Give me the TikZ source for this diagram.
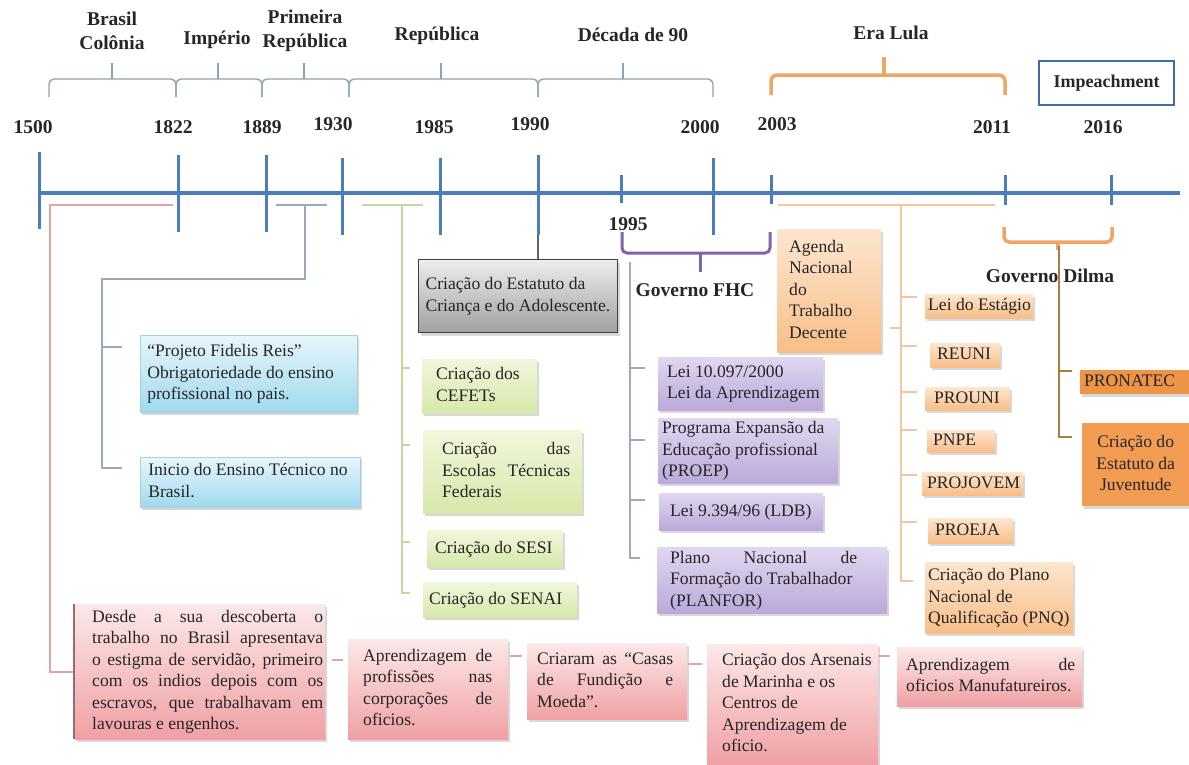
\documentclass[tikz,border=0pt]{standalone}
\usepackage{fontspec}
\setmainfont{Liberation Serif}
\usetikzlibrary{shadows,calc}
\setlength\parindent{0pt}
\newcommand\jst[2]{\makebox[#1][s]{#2}}
\newcommand\tb[3][0pt]{\makebox[#2][l]{\hspace*{#1}\begin{tabular}{@{}l@{}}#3\end{tabular}}}
\newcommand\tbc[2]{\makebox[#1][c]{\begin{tabular}{@{}c@{}}#2\end{tabular}}}
\newcommand\bodyfont{\fontsize{17.6}{21.5}\selectfont}
\newcommand\headfont{\fontsize{19.5}{24}\selectfont\bfseries}
\definecolor{tlc}{HTML}{4A7EBB}
\definecolor{brkc}{HTML}{8FA3B6}
\definecolor{txt}{HTML}{262626}
\definecolor{blueT}{HTML}{E8F6FC}
\definecolor{blueB}{HTML}{9FD9EE}
\definecolor{blueD}{HTML}{A9CFE0}
\definecolor{grayT}{HTML}{EDEDED}
\definecolor{grayB}{HTML}{A0A0A0}
\definecolor{grayD}{HTML}{3F3F3F}
\definecolor{greenT}{HTML}{F1F7DC}
\definecolor{greenB}{HTML}{D6E8A9}
\definecolor{purT}{HTML}{E0D7F0}
\definecolor{purB}{HTML}{BBA9DA}
\definecolor{orT}{HTML}{FDE6CF}
\definecolor{orB}{HTML}{F8BE88}
\definecolor{dorA}{HTML}{EE9446}
\definecolor{dorB}{HTML}{F29B52}
\definecolor{pinkT}{HTML}{FCE8E8}
\definecolor{pinkB}{HTML}{F0A0A4}
\definecolor{redl}{HTML}{E3A3A3}
\definecolor{redd}{HTML}{9C6B6B}
\definecolor{bll}{HTML}{9AAABB}
\definecolor{grl}{HTML}{C8D79E}
\definecolor{pul}{HTML}{ADA3BF}
\definecolor{orl}{HTML}{F2C7A0}
\definecolor{eral}{HTML}{EFA566}
\definecolor{dilv}{HTML}{B07B45}
\definecolor{fhcc}{HTML}{7F64A8}
\definecolor{impc}{HTML}{3F6CAA}
\tikzset{
  hd/.style={font=\headfont, align=center, inner sep=0pt, text=black!85},
  bx/.style={anchor=north west, inner sep=0pt, font=\bodyfont, text=txt,
    drop shadow={opacity=0.3,shadow xshift=2pt,shadow yshift=-3pt}},
  ht/.style={minimum height=#1pt},
  bluebox/.style={bx, top color=blueT, bottom color=blueB, draw=blueD, line width=0.6pt},
  graybox/.style={bx, top color=grayT, bottom color=grayB, draw=grayD, line width=1.2pt},
  greenbox/.style={bx, top color=greenT, bottom color=greenB},
  purbox/.style={bx, top color=purT, bottom color=purB},
  orbox/.style={bx, top color=orT, bottom color=orB},
  darkor/.style={bx, fill=#1},
  pinkbox/.style={bx, top color=pinkT, bottom color=pinkB},
  brk/.style={draw=brkc, line width=1.4pt, rounded corners=5pt},
  tick/.style={draw=tlc, line width=3pt},
  conn/.style={draw=#1, line width=1.6pt}
}
\begin{document}
\begin{tikzpicture}[x=1pt,y=-1pt]
\useasboundingbox (0,0) rectangle (1189,764);
\fill[white] (0,0) rectangle (1189,764);

% ---------- period labels ----------
\node[hd] (pcol) at (112,31) {Brasil\\Colônia};
\node[hd] (pimp) at (217,40) {Império};
\node[hd] (ppr) at (305,31) {Primeira\\República};
\node[hd] (prep) at (437,36) {República};
\node[hd] (pdec) at (633,35) {Década de 90};
\node[hd] (plula) at (891,33) {Era Lula};
\node[hd, draw=impc, line width=2.5pt, minimum width=135pt, minimum height=44pt, font=\fontsize{18}{22}\selectfont\bfseries] (imp) at (1106.5,83) {Impeachment};

% ---------- period brackets ----------
\draw[brk] (49,97) -- (49,79) -- (176,79) -- (176,97);
\draw[brk] (176,97) -- (176,79) -- (262,79) -- (262,97);
\draw[brk] (262,97) -- (262,79) -- (349,79) -- (349,97);
\draw[brk] (349,97) -- (349,79) -- (538,79) -- (538,97);
\draw[brk] (538,97) -- (538,79) -- (713,79) -- (713,97);
\foreach \m in {112,218,304,441,623} \draw[draw=brkc, line width=1.4pt] (\m,79) -- (\m,63);
\draw[draw=eral, line width=3.5pt, rounded corners=6pt] (771,95) -- (771,75) -- (1005,75) -- (1005,95);
\draw[draw=eral, line width=3.5pt] (884,75) -- (884,57);

% ---------- years ----------
\node[hd] (y1500) at (33,127) {1500};
\node[hd] (y1822) at (173,127) {1822};
\node[hd] (y1889) at (262,127) {1889};
\node[hd] (y1930) at (333,124) {1930};
\node[hd] (y1985) at (434,127) {1985};
\node[hd] (y1990) at (530,124) {1990};
\node[hd] (y2000) at (700,127) {2000};
\node[hd] (y2003) at (777,124) {2003};
\node[hd] (y2011) at (992,127) {2011};
\node[hd] (y2016) at (1103,127) {2016};
\node[hd] (y1995) at (628,224) {1995};

% ---------- timeline ----------
\draw[draw=tlc, line width=3.5pt] (38,193) -- (1180,193);
\foreach \x/\a/\b in {39/152/229, 178/155/232, 266/155/232, 342/158/235, 440/158/235, 538/155/235, 621/175/203, 713/158/235, 771/175/204, 1005/175/205, 1111/175/205}
  \draw[tick] (\x,\a) -- (\x,\b);

% ---------- governo labels/brackets ----------
\node[hd] (gfhc) at (695,290) {Governo FHC};
\draw[draw=fhcc, line width=3pt, rounded corners=5pt] (622,232) -- (622,253) -- (770,253) -- (770,232);
\draw[draw=fhcc, line width=3pt] (700,253) -- (700,272);
\node[hd] (gdil) at (1050,276) {Governo Dilma};
\draw[draw=eral, line width=3.5pt, rounded corners=5pt] (1004,227) -- (1004,242) -- (1112,242) -- (1112,227);

% ---------- blue boxes ----------
\node[bluebox, ht=77] (fidelis) at (140,335)
  {\tb[7pt]{217pt}{“Projeto Fidelis Reis”\\Obrigatoriedade do ensino\\profissional no pais.}};
\node[bluebox, ht=50] (inicio) at (140,457)
  {\tb[8pt]{220pt}{Inicio do Ensino Técnico no\\Brasil.}};

% ---------- gray box ----------
\node[graybox, ht=73] (crianca) at (418,259)
  {\tb[7pt]{199pt}{Criação do Estatuto da\\Criança e do Adolescente.}};

% ---------- green boxes ----------
\node[greenbox, ht=54] (cefet) at (422,359) {\tb[14pt]{115pt}{Criação dos\\CEFETs}};
\node[greenbox, ht=83] (escolas) at (423,430)
  {\tb[19pt]{159pt}{\jst{128pt}{Criação das}\\\jst{128pt}{Escolas Técnicas}\\Federais}};
\node[greenbox, ht=37] (sesi) at (427,530) {\tb[8pt]{136pt}{Criação do SESI}};
\node[greenbox, ht=35] (senai) at (423,582) {\tb[6pt]{154pt}{Criação do SENAI}};

% ---------- purple boxes ----------
\node[purbox, ht=53] (lei10) at (658,357) {\tb[9pt]{165pt}{Lei 10.097/2000\\Lei da Aprendizagem}};
\node[purbox, ht=65] (proep) at (658,418)
  {\tb[4pt]{180pt}{Programa Expansão da\\Educação profissional\\(PROEP)}};
\node[purbox, ht=37] (ldb) at (659,493) {\tb[11pt]{164pt}{Lei 9.394/96 (LDB)}};
\node[purbox, ht=66] (planfor) at (657,547)
  {\tb[13pt]{230pt}{\jst{187pt}{Plano Nacional de}\\Formação do Trabalhador\\(PLANFOR)}};

% ---------- orange boxes ----------
\node[orbox, ht=123] (agenda) at (777,229)
  {\tb[12pt]{104pt}{Agenda\\Nacional\\do\\Trabalho\\Decente}};
\node[orbox, ht=24] (estagio) at (925,294) {\tb[3pt]{108pt}{Lei do Estágio}};
\node[orbox, ht=24] (reuni) at (930,343) {\tb[7pt]{70pt}{REUNI}};
\node[orbox, ht=23] (prouni) at (925,387) {\tb[9pt]{85pt}{PROUNI}};
\node[orbox, ht=22] (pnpe) at (927,430) {\tb[6pt]{68pt}{PNPE}};
\node[orbox, ht=23] (projovem) at (922,472) {\tb[5pt]{101pt}{PROJOVEM}};
\node[orbox, ht=25] (proeja) at (928,518) {\tb[7pt]{85pt}{PROEJA}};
\node[orbox, ht=71] (pnq) at (925,562)
  {\tb[3pt]{148pt}{Criação do Plano\\Nacional de\\Qualificação (PNQ)}};
\node[darkor=dorA, ht=24] (pronatec) at (1080,370) {\tb[4pt]{109pt}{PRONATEC}};
\node[darkor=dorB, ht=83] (juv) at (1082,423)
  {\tbc{107pt}{Criação do\\Estatuto da\\Juventude}};

% ---------- pink boxes ----------
\node[pinkbox, ht=135] (desde) at (75,604)
  {\tb[17pt]{250pt}{\jst{231pt}{Desde a sua descoberta o}\\\jst{231pt}{trabalho no Brasil apresentava}\\\jst{231pt}{o estigma de servidão, primeiro}\\\jst{231pt}{com os indios depois com os}\\\jst{231pt}{escravos, que trabalhavam em}\\lavouras e engenhos.}};
\node[pinkbox, ht=100] (aprend) at (348,639)
  {\tb[15pt]{160pt}{\jst{129pt}{Aprendizagem de}\\\jst{129pt}{profissões nas}\\\jst{129pt}{corporações de}\\oficios.}};
\node[pinkbox, ht=76] (criaram) at (527,643)
  {\tb[10pt]{160pt}{\jst{136pt}{Criaram as “Casas}\\\jst{136pt}{de Fundição e}\\Moeda”.}};
\node[pinkbox, ht=120] (arsenais) at (707,644)
  {\tb[15pt]{171pt}{Criação dos Arsenais\\de Marinha e os\\Centros de\\Aprendizagem de\\oficio.}};
\node[pinkbox, ht=59] (manuf) at (897,647)
  {\tb[9pt]{185pt}{\jst{169pt}{Aprendizagem de}\\oficios Manufatureiros.}};

% ---------- connectors ----------
% red (Brasil Colonia)
\draw[conn=redl] (173,205) -- (50,205) |- (desde.west |- 0,672);
\draw[draw=redd, line width=1.6pt] ([xshift=-1pt]desde.north west) -- ([xshift=-1pt]desde.south west);
\draw[conn=redl, shorten <=7pt, shorten >=5pt] (desde.east |- 0,660) -- (aprend.west |- 0,660);
\draw[conn=redl, shorten <=2pt, shorten >=5pt] (aprend.east |- 0,656) -- (criaram.west |- 0,656);
\draw[conn=redl, shorten <=1pt, shorten >=5pt] (criaram.east |- 0,664) -- (arsenais.west |- 0,664);
\draw[conn=redl, shorten <=1pt, shorten >=7pt] (arsenais.east |- 0,656) -- (manuf.west |- 0,656);
% gray-blue (Primeira Republica)
\draw[conn=bll] (276,205) -- (327,205);
\draw[conn=bll] (305,205) -- (305,279) -- (102,279) -- (102,468) -- (122,468);
\draw[conn=bll, shorten >=18pt] (102,347) -- (fidelis.west |- 0,347);
% 1990 to ECA
\draw[draw=grayD!80, line width=1.5pt] (538,235) -- (538,0 |- crianca.north);
% green (Republica)
\draw[conn=grl] (362,205) -- (423,205);
\draw[conn=grl, shorten >=13pt] (402,205) |- (senai.west |- 0,593);
\draw[conn=grl, shorten >=12pt] (402,368) -- (cefet.west |- 0,368);
\draw[conn=grl, shorten >=13pt] (402,445) -- (escolas.west |- 0,445);
\draw[conn=grl, shorten >=17pt] (402,542) -- (sesi.west |- 0,542);
% purple (FHC)
\draw[conn=pul, shorten >=17pt] (630,262) |- (planfor.west |- 0,558);
\draw[conn=pul, shorten >=13pt] (630,368) -- (lei10.west |- 0,368);
\draw[conn=pul, shorten >=13pt] (630,440) -- (proep.west |- 0,440);
\draw[conn=pul, shorten >=14pt] (630,500) -- (ldb.west |- 0,500);
% orange (Lula)
\draw[conn=orl] (778,205) -- (995,205);
\draw[conn=orl, shorten >=12pt] (901,205) |- (pnq.west |- 0,581);
\draw[conn=orl, shorten >=8pt] (901,297) -- (estagio.west |- 0,297);
\draw[conn=orl, shorten >=9pt] (901,328) -- (agenda.east |- 0,328);
\draw[conn=orl, shorten >=13pt] (901,346) -- (reuni.west |- 0,346);
\draw[conn=orl, shorten >=8pt] (901,392) -- (prouni.west |- 0,392);
\draw[conn=orl, shorten >=10pt] (901,430) -- (pnpe.west |- 0,430);
\draw[conn=orl, shorten >=5pt] (901,475) -- (projovem.west |- 0,475);
\draw[conn=orl, shorten >=11pt] (901,522) -- (proeja.west |- 0,522);
% Dilma
\draw[draw=eral, line width=3.5pt] (1058,242) -- (1058,250);
\draw[draw=dilv, line width=2.5pt, shorten >=10pt] (1059,246) |- (juv.west |- 0,437);
\draw[draw=dilv, line width=2.5pt, shorten >=8pt] (1059,371) -- (pronatec.west |- 0,371);
\end{tikzpicture}
\end{document}
